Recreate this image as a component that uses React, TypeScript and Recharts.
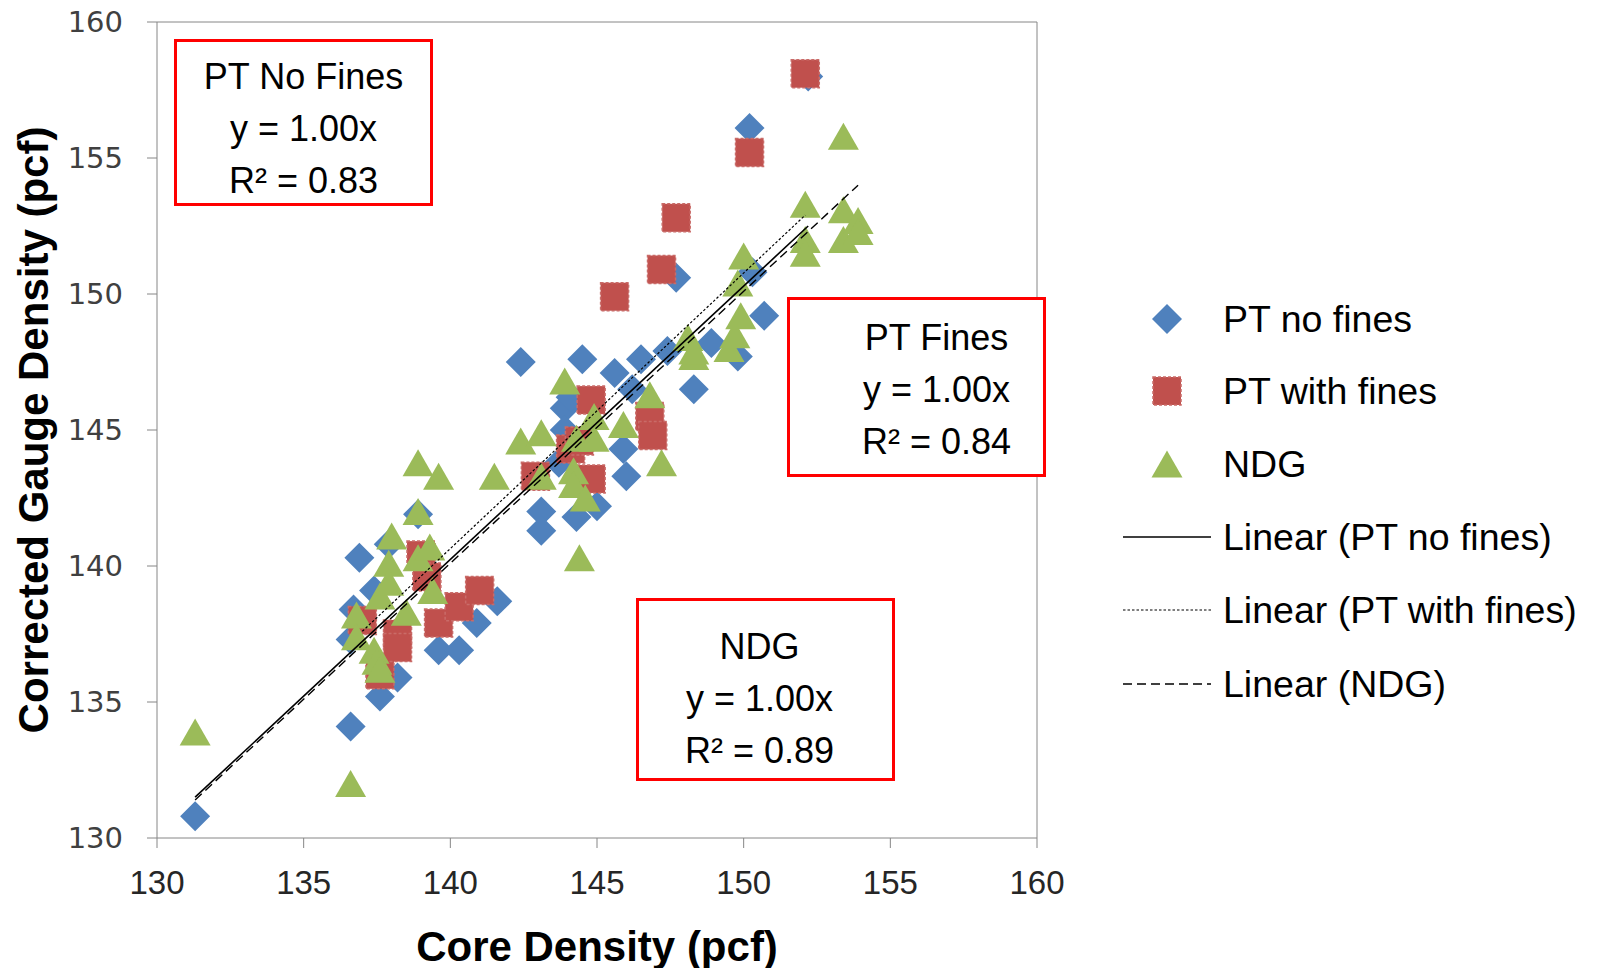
import React from "react";
import {
  ScatterChart,
  Scatter,
  XAxis,
  YAxis,
  ReferenceLine,
  Legend,
} from "recharts";

// core density (x) vs corrected gauge density (y), pcf
const ptNoFines = [
  { x: 131.3, y: 130.8 }, { x: 136.6, y: 134.1 }, { x: 136.6, y: 137.3 },
  { x: 136.7, y: 138.4 }, { x: 136.9, y: 140.3 }, { x: 137.4, y: 139.1 },
  { x: 137.6, y: 135.2 }, { x: 137.9, y: 140.8 }, { x: 138.2, y: 135.9 },
  { x: 138.9, y: 141.9 }, { x: 139.6, y: 136.9 }, { x: 140.3, y: 136.9 },
  { x: 140.9, y: 137.9 }, { x: 141.6, y: 138.7 }, { x: 142.4, y: 147.5 },
  { x: 143.1, y: 142.0 }, { x: 143.1, y: 141.3 }, { x: 143.7, y: 143.8 },
  { x: 143.9, y: 145.8 }, { x: 143.9, y: 145.0 }, { x: 144.1, y: 146.2 },
  { x: 144.3, y: 141.8 }, { x: 144.5, y: 147.6 }, { x: 145.0, y: 142.2 },
  { x: 145.6, y: 147.1 }, { x: 145.9, y: 144.3 }, { x: 146.0, y: 143.3 },
  { x: 146.2, y: 146.5 }, { x: 146.5, y: 147.6 }, { x: 147.4, y: 147.9 },
  { x: 147.7, y: 150.6 }, { x: 148.3, y: 146.5 }, { x: 148.9, y: 148.2 },
  { x: 149.8, y: 147.7 }, { x: 150.3, y: 150.8 }, { x: 150.7, y: 149.2 },
  { x: 150.2, y: 156.1 }, { x: 152.2, y: 158.0 },
];

const ptWithFines = [
  { x: 137.0, y: 138.0 }, { x: 137.6, y: 136.0 }, { x: 138.2, y: 137.5 },
  { x: 138.2, y: 137.0 }, { x: 139.0, y: 140.4 }, { x: 139.2, y: 139.6 },
  { x: 139.6, y: 137.9 }, { x: 140.3, y: 138.5 }, { x: 141.0, y: 139.1 },
  { x: 142.9, y: 143.3 }, { x: 144.1, y: 144.3 }, { x: 144.4, y: 144.6 },
  { x: 144.8, y: 146.1 }, { x: 144.8, y: 143.2 }, { x: 145.6, y: 149.9 },
  { x: 146.8, y: 145.5 }, { x: 146.9, y: 144.8 }, { x: 147.2, y: 150.9 },
  { x: 147.7, y: 152.8 }, { x: 150.2, y: 155.2 }, { x: 152.1, y: 158.1 },
];

const ndg = [
  { x: 131.3, y: 133.9 }, { x: 136.6, y: 132.0 }, { x: 136.8, y: 138.2 },
  { x: 136.8, y: 137.4 }, { x: 137.4, y: 136.9 }, { x: 137.5, y: 136.5 },
  { x: 137.6, y: 136.2 }, { x: 137.6, y: 138.9 }, { x: 137.9, y: 140.1 },
  { x: 137.9, y: 139.4 }, { x: 138.0, y: 141.1 }, { x: 138.5, y: 138.3 },
  { x: 138.9, y: 142.0 }, { x: 138.9, y: 140.3 }, { x: 138.9, y: 143.8 },
  { x: 139.3, y: 140.7 }, { x: 139.4, y: 139.1 }, { x: 139.6, y: 143.3 },
  { x: 141.5, y: 143.3 }, { x: 142.4, y: 144.6 }, { x: 143.1, y: 144.9 },
  { x: 143.1, y: 143.3 }, { x: 143.9, y: 146.8 }, { x: 144.2, y: 143.5 },
  { x: 144.2, y: 143.0 }, { x: 144.3, y: 144.7 }, { x: 144.4, y: 140.3 },
  { x: 144.6, y: 142.5 }, { x: 144.9, y: 145.5 }, { x: 144.9, y: 144.7 },
  { x: 145.9, y: 145.2 }, { x: 146.8, y: 146.3 }, { x: 147.2, y: 143.8 },
  { x: 148.1, y: 148.4 }, { x: 148.3, y: 147.7 }, { x: 148.3, y: 147.9 },
  { x: 149.5, y: 148.0 }, { x: 149.7, y: 148.5 }, { x: 149.9, y: 149.2 },
  { x: 149.8, y: 150.4 }, { x: 150.0, y: 151.4 }, { x: 152.1, y: 153.3 },
  { x: 152.1, y: 152.0 }, { x: 152.1, y: 151.5 }, { x: 153.4, y: 155.8 },
  { x: 153.4, y: 153.1 }, { x: 153.4, y: 152.0 }, { x: 153.9, y: 152.7 },
  { x: 153.9, y: 152.3 },
];

// trendline end points
const trendNoFines = [{ x: 131.3, y: 131.5 }, { x: 152.2, y: 152.5 }];
const trendWithFines = [{ x: 137.0, y: 137.6 }, { x: 152.1, y: 152.9 }];
const trendNdg = [{ x: 131.3, y: 131.4 }, { x: 153.9, y: 154.0 }];

const xTicks = [130, 135, 140, 145, 150, 155, 160];
const yTicks = [130, 135, 140, 145, 150, 155, 160];

const BLUE = "#4F81BD";
const RED = "#C0504D";
const GREEN = "#9BBB59";
const FRAME = "#868686";
const FONT = "'Liberation Sans', Arial, sans-serif";

const Diamond = (p: any) => {
  const { cx, cy } = p;
  const r = 15;
  return (
    <polygon
      points={`${cx},${cy - r} ${cx + r},${cy} ${cx},${cy + r} ${cx - r},${cy}`}
      fill={BLUE}
    />
  );
};

const Square = (p: any) => {
  const { cx, cy } = p;
  const s = 28;
  return (
    <rect
      x={cx - s / 2}
      y={cy - s / 2}
      width={s}
      height={s}
      fill={RED}
      stroke="#C96B68"
      strokeWidth={1.5}
      strokeDasharray="3 2"
    />
  );
};

const Triangle = (p: any) => {
  const { cx, cy } = p;
  const w = 31;
  const h = 27;
  return (
    <polygon
      points={`${cx},${cy - h / 2} ${cx + w / 2},${cy + h / 2} ${cx - w / 2},${cy + h / 2}`}
      fill={GREEN}
    />
  );
};

const NoMarker = () => <g />;

const YTitle = (props: any) => {
  const { viewBox } = props;
  const cx = 33;
  const cy = viewBox.y + viewBox.height / 2;
  return (
    <text
      x={cx}
      y={cy}
      transform={`rotate(-90, ${cx}, ${cy})`}
      textAnchor="middle"
      dominantBaseline="central"
      fontFamily={FONT}
      fontWeight="bold"
      fontSize={42}
      fill="#000"
    >
      Corrected Gauge Density (pcf)
    </text>
  );
};

const XTitle = (props: any) => {
  const { viewBox } = props;
  return (
    <text
      x={viewBox.x + viewBox.width / 2}
      y={946}
      textAnchor="middle"
      dominantBaseline="central"
      fontFamily={FONT}
      fontWeight="bold"
      fontSize={42}
      fill="#000"
    >
      Core Density (pcf)
    </text>
  );
};

const legendRows = [
  { label: "PT no fines", kind: "diamond" },
  { label: "PT with fines", kind: "square" },
  { label: "NDG", kind: "triangle" },
  { label: "Linear (PT no fines)", kind: "solid" },
  { label: "Linear (PT with fines)", kind: "dotted" },
  { label: "Linear (NDG)", kind: "dashed" },
];

const renderLegend = () => {
  const rowY = [31, 103, 176, 249, 322, 396];
  return (
    <svg width={490} height={430}>
      {legendRows.map((row, i) => {
        const y = rowY[i];
        let mark: any = null;
        if (row.kind === "diamond") mark = <Diamond cx={59} cy={y} />;
        if (row.kind === "square") mark = <Square cx={59} cy={y} />;
        if (row.kind === "triangle") mark = <Triangle cx={59} cy={y} />;
        if (row.kind === "solid")
          mark = <line x1={15} x2={103} y1={y} y2={y} stroke="#000" strokeWidth={1.6} />;
        if (row.kind === "dotted")
          mark = <line x1={15} x2={103} y1={y} y2={y} stroke="#000" strokeWidth={1.2} strokeDasharray="2.5 2" />;
        if (row.kind === "dashed")
          mark = <line x1={15} x2={103} y1={y} y2={y} stroke="#000" strokeWidth={1.4} strokeDasharray="9 5" />;
        return (
          <g key={row.label}>
            {mark}
            <text
              x={115}
              y={y}
              dominantBaseline="central"
              fontFamily={FONT}
              fontSize={37.5}
              fill="#000"
            >
              {row.label}
            </text>
          </g>
        );
      })}
    </svg>
  );
};

const boxStyle: React.CSSProperties = {
  position: "absolute",
  boxSizing: "border-box",
  border: "3px solid #FF0000",
  background: "#fff",
  fontFamily: FONT,
  fontSize: 36,
  lineHeight: "52px",
  color: "#000",
  textAlign: "center",
};

export default function App() {
  return (
    <div style={{ position: "absolute", left: 0, top: 0, width: 1598, height: 968 }}>
      <ScatterChart
        width={1598}
        height={968}
        margin={{ top: 22, right: 561, bottom: 10, left: 8 }}
      >
        <XAxis
          type="number"
          dataKey="x"
          domain={[130, 160]}
          ticks={xTicks}
          interval={0}
          allowDataOverflow
          height={120}
          stroke={FRAME}
          tickSize={10}
          tickMargin={23}
          tick={{ fill: "#262626", fontSize: 33, fontFamily: FONT }}
          label={<XTitle />}
        />
        <YAxis
          type="number"
          dataKey="y"
          domain={[130, 160]}
          ticks={yTicks}
          interval={0}
          allowDataOverflow
          width={149}
          stroke={FRAME}
          tickSize={10}
          tickMargin={24}
          tick={{ fill: "#404040", fontSize: 29, fontFamily: "'DejaVu Sans', sans-serif" }}
          label={<YTitle />}
        />
        <ReferenceLine y={160} stroke={FRAME} strokeWidth={1} />
        <ReferenceLine x={160} stroke={FRAME} strokeWidth={1} />
        <Scatter name="PT no fines" data={ptNoFines} shape={Diamond} isAnimationActive={false} />
        <Scatter name="PT with fines" data={ptWithFines} shape={Square} isAnimationActive={false} />
        <Scatter name="NDG" data={ndg} shape={Triangle} isAnimationActive={false} />
        <Scatter
          name="Linear (PT no fines)"
          data={trendNoFines}
          line={{ stroke: "#000", strokeWidth: 1.6 }}
          shape={NoMarker}
          legendType="none"
          isAnimationActive={false}
        />
        <Scatter
          name="Linear (PT with fines)"
          data={trendWithFines}
          line={{ stroke: "#000", strokeWidth: 1.2, strokeDasharray: "2.5 2" }}
          shape={NoMarker}
          legendType="none"
          isAnimationActive={false}
        />
        <Scatter
          name="Linear (NDG)"
          data={trendNdg}
          line={{ stroke: "#000", strokeWidth: 1.4, strokeDasharray: "9 5" }}
          shape={NoMarker}
          legendType="none"
          isAnimationActive={false}
        />
        <Legend
          layout="vertical"
          align="center"
          verticalAlign="middle"
          content={renderLegend}
          wrapperStyle={{ left: 1108, top: 288, width: 490, height: 430 }}
        />
      </ScatterChart>

      <div style={{ ...boxStyle, left: 174, top: 39, width: 259, height: 167, paddingTop: 9 }}>
        <div>PT No Fines</div>
        <div>y = 1.00x</div>
        <div>R² = 0.83</div>
      </div>
      <div style={{ ...boxStyle, left: 787, top: 297, width: 259, height: 180, paddingTop: 12, paddingLeft: 40 }}>
        <div>PT Fines</div>
        <div>y = 1.00x</div>
        <div>R² = 0.84</div>
      </div>
      <div style={{ ...boxStyle, left: 636, top: 598, width: 259, height: 183, paddingTop: 20, paddingRight: 12 }}>
        <div>NDG</div>
        <div>y = 1.00x</div>
        <div>R² = 0.89</div>
      </div>
    </div>
  );
}
